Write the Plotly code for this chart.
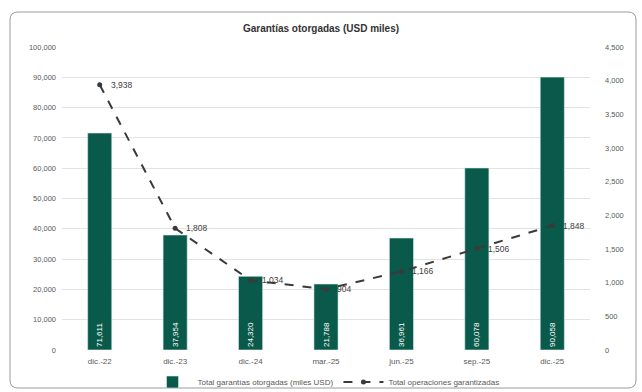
import plotly.graph_objects as go

categories = ["dic.-22", "dic.-23", "dic.-24", "mar.-25", "jun.-25", "sep.-25", "dic.-25"]
garantias = [71611, 37954, 24320, 21788, 36961, 60078, 90058]
operaciones = [3938, 1808, 1034, 904, 1166, 1506, 1848]

W, H = 642, 392
ml, mr, mt, mb = 62, 52, 47, 42
pw, ph = W - ml - mr, H - mt - mb

def px(x):
    return (x - ml) / pw

def py(y):
    return (H - mb - y) / ph

font = "Liberation Sans, Arial, sans-serif"
grey = "#595959"

fig = go.Figure()
fig.add_trace(go.Bar(
    x=categories, y=garantias, name="Total garantías otorgadas (miles USD)",
    marker=dict(color="#0a5a4b", line=dict(color="#d8efec", width=0.6)),
    width=0.32,
    text=[f"{v:,}" for v in garantias], textposition="inside",
    insidetextanchor="start", textangle=-90,
    textfont=dict(color="white", size=8, family=font),
    yaxis="y",
))
fig.add_trace(go.Scatter(
    x=categories, y=operaciones, name="Total operaciones garantizadas",
    mode="lines+markers",
    line=dict(color="#3a3a3a", width=2, dash="dash"),
    marker=dict(color="#3a3a3a", size=5),
    yaxis="y2",
))

for c, v in zip(categories, operaciones):
    fig.add_annotation(x=c, y=v, xref="x", yref="y2", text=f"{v:,}",
                       showarrow=False, xanchor="left", yanchor="middle", xshift=9,
                       font=dict(color="#404040", size=8.5, family=font))

fig.update_layout(
    width=W, height=H,
    margin=dict(l=ml, r=mr, t=mt, b=mb, autoexpand=False),
    paper_bgcolor="white", plot_bgcolor="white",
    font=dict(family=font, size=8, color=grey),
    separators=".,",
    title=dict(text="<b>Garantías otorgadas (USD miles)</b>", x=0.5, xref="container",
               y=1 - 28 / H, yref="container", yanchor="middle", xanchor="center",
               font=dict(size=10, color="#333333", family=font)),
    xaxis=dict(showgrid=False, showline=False, ticks="", tickfont=dict(size=8, color=grey),
               ticklabelstandoff=5),
    yaxis=dict(range=[0, 100000], dtick=10000, tickformat=",d", showgrid=True,
               gridcolor="#e3e3e3", gridwidth=1, zeroline=False, ticks="",
               tickfont=dict(size=7.5, color=grey), ticklabelstandoff=5),
    yaxis2=dict(range=[0, 4500], dtick=500, tickformat=",d", overlaying="y", side="right",
                showgrid=False, zeroline=False, ticks="", tickfont=dict(size=7.5, color=grey),
                ticklabelstandoff=14),
    legend=dict(orientation="h", x=0.5, xanchor="center", y=py(382), yanchor="middle",
                font=dict(size=8, color=grey), bgcolor="rgba(0,0,0,0)",
                itemwidth=40),
    bargap=0.68,
    showlegend=True,
)

# rounded chart-area border
x0, x1, y0, y1, r = 10, 636, 12, 388, 8
rx, ry = r / pw, r / ph
X0, X1, Yt, Yb = px(x0), px(x1), py(y0), py(y1)
path = (f"M {X0+rx},{Yt} L {X1-rx},{Yt} Q {X1},{Yt} {X1},{Yt-ry} "
        f"L {X1},{Yb+ry} Q {X1},{Yb} {X1-rx},{Yb} "
        f"L {X0+rx},{Yb} Q {X0},{Yb} {X0},{Yb+ry} "
        f"L {X0},{Yt-ry} Q {X0},{Yt} {X0+rx},{Yt} Z")
fig.add_shape(type="path", xref="paper", yref="paper", path=path,
              line=dict(color="#9a9a9a", width=1), layer="below")

fig.write_html("out.html")
